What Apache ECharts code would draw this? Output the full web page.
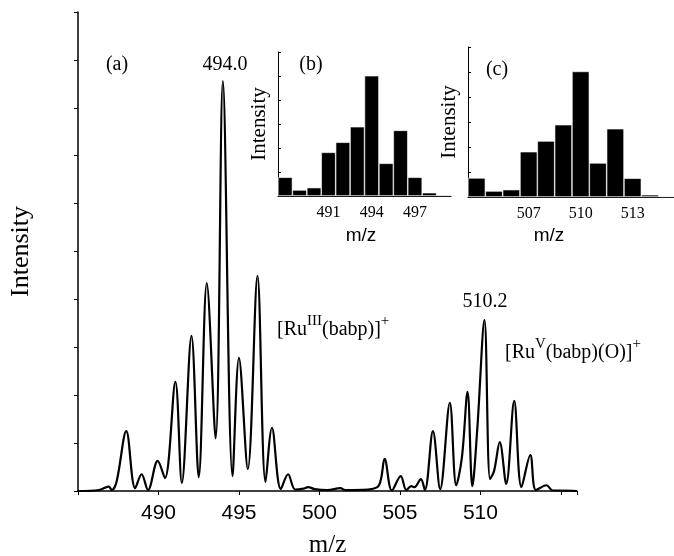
<!DOCTYPE html>
<html>
<head>
<meta charset="utf-8">
<script src="https://cdn.jsdelivr.net/npm/echarts@6/dist/echarts.min.js"></script>
<style>
  html, body { margin: 0; padding: 0; background: #fff; }
  #chart { width: 674px; height: 556px; }
</style>
</head>
<body>
<div id="chart"></div>
<script>
// main spectrum, points (m/z, relative intensity)
var mzMain = [485.0, 486.3, 486.9, 487.1, 487.4, 488.0, 488.55, 488.95, 489.35, 489.95, 490.4,
  491.05, 491.45, 492.05, 492.5, 493.0, 493.55, 494.0, 494.6, 495.0, 495.55, 496.15, 496.65,
  497.05, 497.6, 498.05, 498.5, 499.0, 499.3, 499.7, 500.5, 501.3, 501.6, 503.0, 503.7,
  504.05, 504.5, 505.05, 505.4, 505.7, 505.9, 506.3, 506.55, 507.05, 507.5, 508.1, 508.5,
  508.85, 509.2, 509.5, 509.8, 510.25, 510.6, 510.85, 511.2, 511.6, 512.1, 512.55, 513.1,
  513.45, 514.1, 514.5, 515.0, 516.0];
var intensityMain = [0, 0.2, 0.9, 0.2, 2.0, 12.5, 0.6, 3.5, 0.2, 6.3, 2.7,
  22.8, 1.7, 32.4, 2.9, 43.4, 11.0, 85.6, 3.1, 27.8, 4.6, 44.9, 1.9,
  13.2, 0.4, 3.5, 0.3, 0.5, 0.8, 0.4, 0.2, 0.6, 0.2, 0.3, 1.2,
  6.7, 0.1, 3.1, 0.2, 1.0, 0.8, 2.5, 0.2, 12.5, 0.4, 18.4, 1.2,
  7.0, 20.7, 1.0, 12.7, 35.7, 2.5, 4.2, 10.2, 1.5, 18.8, 0.8, 7.5,
  0.2, 1.2, 0.1, 0.1, 0];
var mainTickLabels = [490, 495, 500, 505, 510];

// inset (b): simulated isotope pattern of [Ru(III)(babp)]+
var mzB = ['488', '489', '490', '491', '492', '493', '494', '495', '496', '497', '498', '499'];
var barsB = [13.0, 4.2, 5.8, 30.3, 37.3, 48.1, 83.5, 22.7, 45.6, 13.0, 2.3, 0.7];
var tickLabelsB = ['491', '494', '497'];

// inset (c): simulated isotope pattern of [Ru(V)(babp)(O)]+
var mzC = ['504', '505', '506', '507', '508', '509', '510', '511', '512', '513', '514', '515'];
var barsC = [12.7, 4.0, 4.9, 30.2, 37.3, 48.2, 83.7, 22.7, 45.5, 12.5, 1.5, 0.5];
var tickLabelsC = ['507', '510', '513'];

var serif = 'Liberation Serif';
var sans = 'Liberation Sans';

var chart = echarts.init(document.getElementById('chart'));

function insetX(idx, cats, shown) {
  return {
    type: 'category', gridIndex: idx, data: cats,
    axisLine: { lineStyle: { color: '#000', width: 1 } },
    axisTick: { alignWithLabel: false, length: 3, lineStyle: { color: '#000' } },
    axisLabel: {
      interval: 0, margin: 9, color: '#000', fontFamily: serif, fontSize: 16,
      formatter: function (v) { return shown.indexOf(v) >= 0 ? v : ''; }
    }
  };
}
function insetY(idx) {
  return {
    type: 'value', gridIndex: idx, min: 0, max: 100, interval: 100 / 6,
    name: 'Intensity', nameLocation: 'middle', nameGap: 8,
    nameTextStyle: { fontFamily: serif, fontSize: 21, color: '#000' },
    axisLine: { show: true, lineStyle: { color: '#000', width: 1 } },
    axisTick: { show: true, inside: true, length: 3, lineStyle: { color: '#000' } },
    axisLabel: { show: false },
    splitLine: { show: false }
  };
}

var rich = {
  m: { fontFamily: serif, fontSize: 20, fill: '#000', lineHeight: 26, verticalAlign: 'bottom' },
  s: { fontFamily: serif, fontSize: 15, fill: '#000', lineHeight: 26, verticalAlign: 'top' }
};

var option = {
  animation: false,
  backgroundColor: '#fff',
  grid: [
    { left: 78, top: 12, width: 499, height: 479, outerBoundsMode: 'none' },
    { left: 278, top: 52, width: 173, height: 144, outerBoundsMode: 'none' },
    { left: 468, top: 47, width: 208, height: 150, outerBoundsMode: 'none' }
  ],
  xAxis: [
    {
      type: 'value', gridIndex: 0, min: 485, max: 516, interval: 5,
      name: 'm/z', nameLocation: 'middle', nameGap: 42,
      nameTextStyle: { fontFamily: serif, fontSize: 25, color: '#000' },
      axisLine: { lineStyle: { color: '#000', width: 1.5 } },
      axisTick: { length: 4, lineStyle: { color: '#000' } },
      axisLabel: {
        margin: 12, color: '#000', fontFamily: sans, fontSize: 21,
        formatter: function (v) { return mainTickLabels.indexOf(v) >= 0 ? String(v) : ''; }
      },
      splitLine: { show: false }
    },
    insetX(1, mzB, tickLabelsB),
    insetX(2, mzC, tickLabelsC)
  ],
  yAxis: [
    {
      type: 'value', gridIndex: 0, min: 0, max: 100, interval: 10,
      name: 'Intensity', nameLocation: 'middle', nameGap: 44,
      nameTextStyle: { fontFamily: serif, fontSize: 26, color: '#000' },
      axisLine: { show: true, lineStyle: { color: '#000', width: 1.5 } },
      axisTick: { show: true, length: 4, lineStyle: { color: '#000' } },
      axisLabel: { show: false },
      splitLine: { show: false }
    },
    insetY(1),
    insetY(2)
  ],
  series: [
    {
      type: 'line', xAxisIndex: 0, yAxisIndex: 0,
      data: mzMain.map(function (m, i) { return [m, intensityMain[i]]; }),
      smooth: 0.35, showSymbol: false, clip: true,
      lineStyle: { color: '#000', width: 2.2 }
    },
    {
      type: 'bar', xAxisIndex: 1, yAxisIndex: 1, data: barsB,
      barCategoryGap: '0%', itemStyle: { color: '#000', borderColor: '#fff', borderWidth: 0.6 }
    },
    {
      type: 'bar', xAxisIndex: 2, yAxisIndex: 2, data: barsC,
      barCategoryGap: '0%', itemStyle: { color: '#000', borderColor: '#fff', borderWidth: 0.6 }
    }
  ],
  graphic: [
    { type: 'text', x: 117, y: 65, style: { text: '(a)', font: '20px ' + serif, fill: '#000', align: 'center', verticalAlign: 'middle' } },
    { type: 'text', x: 225, y: 65, style: { text: '494.0', font: '20px ' + serif, fill: '#000', align: 'center', verticalAlign: 'middle' } },
    { type: 'text', x: 311, y: 65, style: { text: '(b)', font: '20px ' + serif, fill: '#000', align: 'center', verticalAlign: 'middle' } },
    { type: 'text', x: 497, y: 70, style: { text: '(c)', font: '20px ' + serif, fill: '#000', align: 'center', verticalAlign: 'middle' } },
    { type: 'text', x: 485, y: 302, style: { text: '510.2', font: '20px ' + serif, fill: '#000', align: 'center', verticalAlign: 'middle' } },
    { type: 'text', x: 361, y: 236, style: { text: 'm/z', font: '19px ' + sans, fill: '#000', align: 'center', verticalAlign: 'middle' } },
    { type: 'text', x: 549, y: 236, style: { text: 'm/z', font: '19px ' + sans, fill: '#000', align: 'center', verticalAlign: 'middle' } },
    {
      type: 'text', x: 277, y: 327,
      style: { text: '{m|[Ru}{s|III}{m|(babp)]}{s|+}', verticalAlign: 'middle', rich: rich }
    },
    {
      type: 'text', x: 505, y: 350,
      style: { text: '{m|[Ru}{s|V}{m|(babp)(O)]}{s|+}', verticalAlign: 'middle', rich: rich }
    }
  ]
};

chart.setOption(option);
</script>
</body>
</html>
